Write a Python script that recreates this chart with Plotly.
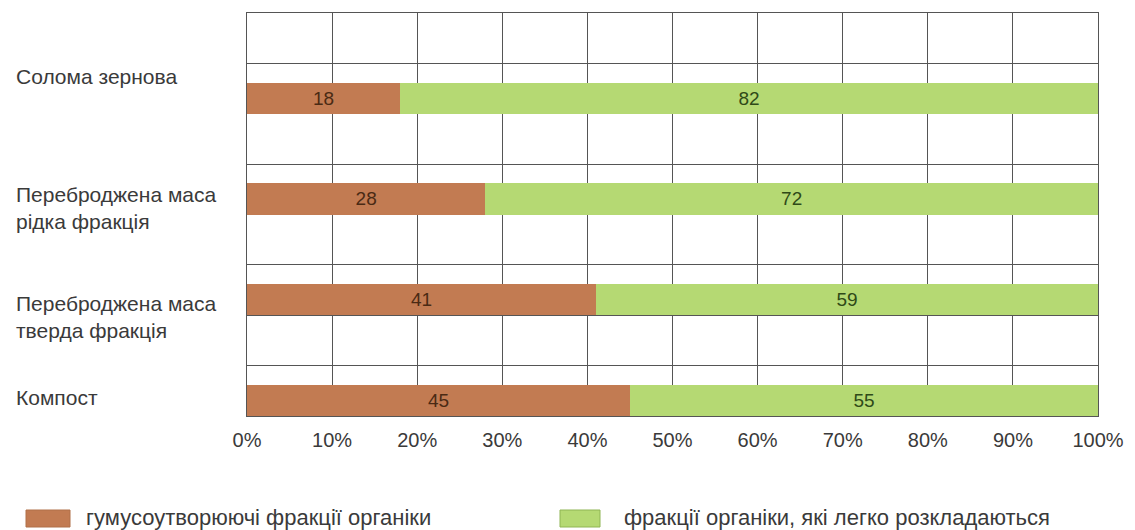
import plotly.graph_objects as go

# ---- data ----
categories = ["Солома зернова", "Переброджена маса<br>рідка фракція",
              "Переброджена маса<br>тверда фракція", "Компост"]
humus = [18, 28, 41, 45]
easy = [82, 72, 59, 55]
series_names = ["гумусоутворюючі фракції органіки",
                "фракції органіки, які легко розкладаються"]
x_ticks = [0, 10, 20, 30, 40, 50, 60, 70, 80, 90, 100]
x_tick_labels = [f"{v}%" for v in x_ticks]

# ---- layout / style ----
W, H = 1135, 530
L, R, T, B = 247, 37, 13, 114
brown = "#C27B52"
green = "#B5D973"
grid = "#555555"
text_col = "#3a3a3a"
FONT = "Liberation Sans, Arial, sans-serif"

n = len(categories)
bar_width = 0.62
# each category occupies 2 grid units; bar sits on the lower grid line
pos = [(n - 1 - i) * 2 + bar_width / 2 for i in range(n)]
label_offsets = [0.42, -0.18, -0.35, 0.05]

fig = go.Figure()
fig.add_trace(go.Bar(
    y=pos, x=humus, orientation="h", width=bar_width, name=series_names[0],
    marker=dict(color=brown, line=dict(width=0)),
    text=[str(v) for v in humus], textposition="inside", insidetextanchor="middle",
    textangle=0, textfont=dict(family=FONT, size=19, color="#4a2a14"),
    constraintext="none", hoverinfo="skip",
))
fig.add_trace(go.Bar(
    y=pos, x=easy, orientation="h", width=bar_width, name=series_names[1],
    marker=dict(color=green, line=dict(width=0)),
    text=[str(v) for v in easy], textposition="inside", insidetextanchor="middle",
    textangle=0, textfont=dict(family=FONT, size=19, color="#2f4a18"),
    constraintext="none", hoverinfo="skip",
))

annotations = []
plot_w = W - L - R
plot_h = H - T - B
for i, c in enumerate(categories):
    annotations.append(dict(
        x=(14 - L) / plot_w, xref="paper", y=pos[i] + label_offsets[i], yref="y",
        text=c, showarrow=False, xanchor="left", yanchor="middle", align="left",
        font=dict(family=FONT, size=21, color=text_col),
    ))

# manual legend
shapes = []
legend_items = [
    (series_names[0], brown, "#b07048", 26, 70, 84),
    (series_names[1], green, "#8fb555", 560, 600, 622),
]
for name, col, edge, x0, x1, tx in legend_items:
    shapes.append(dict(type="rect", xref="paper", yref="paper",
                       x0=(x0 - L) / plot_w, x1=(x1 - L) / plot_w,
                       y0=(H - B - 527) / plot_h, y1=(H - B - 510) / plot_h,
                       fillcolor=col, line=dict(color=edge, width=1)))
    annotations.append(dict(
        x=(tx - L) / plot_w, xref="paper", y=(H - B - 517) / plot_h, yref="paper",
        text=name, showarrow=False, xanchor="left", yanchor="middle",
        font=dict(family=FONT, size=22, color=text_col),
    ))

fig.update_layout(
    width=W, height=H, barmode="stack", showlegend=False,
    margin=dict(l=L, r=R, t=T, b=B),
    paper_bgcolor="white", plot_bgcolor="white",
    annotations=annotations, shapes=shapes,
    font=dict(family=FONT, color=text_col),
)
fig.update_xaxes(
    range=[0, 100], tickvals=x_ticks, ticktext=x_tick_labels,
    showgrid=True, gridcolor=grid, gridwidth=1,
    showline=True, linecolor=grid, linewidth=1, mirror=True,
    ticks="", ticklabelstandoff=6, zeroline=False,
    tickfont=dict(family=FONT, size=20, color=text_col),
)
fig.update_yaxes(
    range=[0, 2 * n], dtick=1, tick0=0, showticklabels=False,
    showgrid=True, gridcolor=grid, gridwidth=1,
    showline=True, linecolor=grid, linewidth=1, mirror=True,
    ticks="", zeroline=False,
)

fig.write_html("out.html")
